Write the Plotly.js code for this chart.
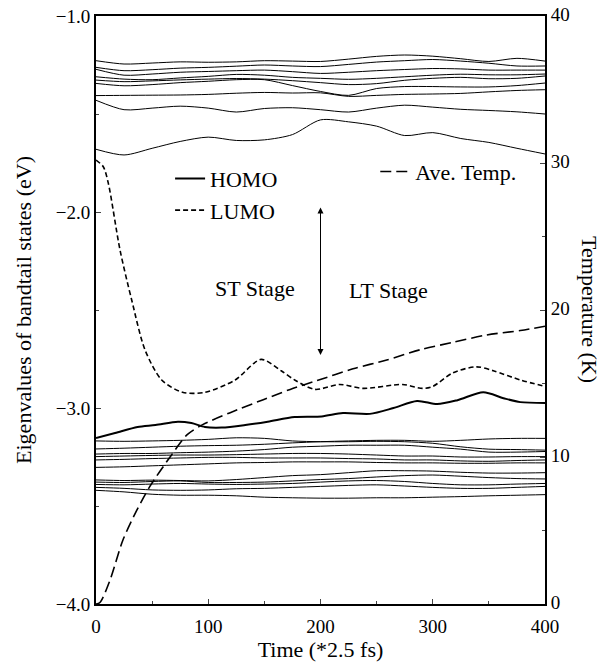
<!DOCTYPE html>
<html>
<head>
<meta charset="utf-8">
<script src="https://cdn.plot.ly/plotly-3.0.1.min.js"></script>
<style>html,body{margin:0;padding:0;background:#fff;}#chart{width:607px;height:662px;}</style>
</head>
<body>
<div id="chart"></div>
<script>
// Time grid (*2.5 fs) for the thin band-tail lines
const tGrid = [0, 25, 50, 75, 100, 125, 150, 175, 200, 225, 250, 275, 300, 325, 350, 375, 400];

// Upper band-tail states (eV)
const up1 = [-1.228,-1.245,-1.240,-1.234,-1.236,-1.234,-1.228,-1.230,-1.232,-1.220,-1.206,-1.199,-1.205,-1.218,-1.232,-1.216,-1.230];
const up2 = [-1.262,-1.279,-1.274,-1.266,-1.262,-1.256,-1.250,-1.255,-1.258,-1.247,-1.235,-1.228,-1.222,-1.230,-1.241,-1.255,-1.255];
const up3 = [-1.272,-1.302,-1.296,-1.287,-1.283,-1.279,-1.276,-1.284,-1.293,-1.287,-1.279,-1.273,-1.268,-1.270,-1.276,-1.276,-1.276];
const up4 = [-1.310,-1.322,-1.325,-1.316,-1.308,-1.298,-1.302,-1.313,-1.318,-1.323,-1.318,-1.310,-1.302,-1.297,-1.300,-1.300,-1.296];
const up5 = [-1.327,-1.335,-1.331,-1.326,-1.322,-1.319,-1.322,-1.330,-1.340,-1.350,-1.345,-1.328,-1.318,-1.313,-1.320,-1.318,-1.306];
const up6 = [-1.344,-1.356,-1.350,-1.340,-1.333,-1.325,-1.325,-1.355,-1.385,-1.405,-1.370,-1.360,-1.360,-1.362,-1.362,-1.355,-1.342];
const up7 = [-1.406,-1.405,-1.404,-1.403,-1.400,-1.394,-1.390,-1.393,-1.392,-1.410,-1.405,-1.400,-1.398,-1.395,-1.387,-1.380,-1.376];
const up8 = [-1.430,-1.478,-1.470,-1.460,-1.470,-1.490,-1.472,-1.468,-1.478,-1.490,-1.470,-1.455,-1.465,-1.476,-1.482,-1.489,-1.500];
const up9 = [-1.680,-1.709,-1.675,-1.640,-1.618,-1.635,-1.632,-1.605,-1.530,-1.540,-1.562,-1.610,-1.595,-1.625,-1.645,-1.675,-1.704];

// Lower band-tail states (eV)
const lo1 = [-3.168,-3.170,-3.168,-3.165,-3.160,-3.152,-3.155,-3.168,-3.172,-3.172,-3.170,-3.172,-3.180,-3.198,-3.210,-3.212,-3.215];
const lo2 = [-3.209,-3.205,-3.200,-3.195,-3.192,-3.190,-3.185,-3.178,-3.172,-3.168,-3.165,-3.165,-3.170,-3.165,-3.158,-3.155,-3.155];
const lo3 = [-3.235,-3.232,-3.232,-3.228,-3.225,-3.220,-3.212,-3.200,-3.195,-3.190,-3.190,-3.190,-3.200,-3.210,-3.225,-3.225,-3.222];
const lo4 = [-3.248,-3.245,-3.242,-3.240,-3.240,-3.238,-3.235,-3.232,-3.232,-3.235,-3.240,-3.245,-3.245,-3.250,-3.250,-3.248,-3.248];
const lo5 = [-3.265,-3.262,-3.258,-3.255,-3.252,-3.252,-3.255,-3.255,-3.255,-3.258,-3.260,-3.265,-3.265,-3.270,-3.272,-3.268,-3.265];
const lo6 = [-3.303,-3.300,-3.295,-3.290,-3.285,-3.280,-3.278,-3.275,-3.275,-3.275,-3.278,-3.280,-3.280,-3.282,-3.282,-3.280,-3.280];
const lo7 = [-3.367,-3.370,-3.368,-3.370,-3.372,-3.365,-3.355,-3.345,-3.340,-3.330,-3.320,-3.320,-3.322,-3.328,-3.332,-3.332,-3.330];
const lo8 = [-3.378,-3.380,-3.375,-3.372,-3.380,-3.380,-3.378,-3.372,-3.365,-3.360,-3.352,-3.345,-3.342,-3.348,-3.355,-3.360,-3.362];
const lo9 = [-3.390,-3.392,-3.388,-3.385,-3.388,-3.390,-3.388,-3.385,-3.378,-3.372,-3.370,-3.375,-3.385,-3.392,-3.392,-3.388,-3.385];
const lo10 = [-3.405,-3.410,-3.418,-3.420,-3.418,-3.412,-3.410,-3.405,-3.400,-3.395,-3.392,-3.398,-3.405,-3.410,-3.410,-3.405,-3.400];
const lo11 = [-3.420,-3.428,-3.440,-3.445,-3.445,-3.448,-3.455,-3.458,-3.460,-3.460,-3.458,-3.458,-3.455,-3.452,-3.448,-3.445,-3.442];

// HOMO (eV)
const homoT = [0, 17, 37, 53, 73, 85, 97, 112, 133, 153, 177, 201, 220, 244, 265, 286, 304, 322, 345, 363, 378, 400];
const homoE = [-3.153,-3.128,-3.097,-3.087,-3.070,-3.077,-3.097,-3.100,-3.087,-3.070,-3.046,-3.043,-3.026,-3.030,-3.000,-2.964,-2.980,-2.960,-2.920,-2.950,-2.970,-2.974];

// LUMO (eV)
const lumoT = [0, 6.5, 11, 21.4, 31.8, 43.7, 58.5, 77, 97, 124, 147, 165, 177, 195, 217, 238, 273, 291, 300, 318, 339, 354, 378, 400];
const lumoE = [-1.735,-1.769,-1.854,-2.194,-2.449,-2.704,-2.857,-2.920,-2.920,-2.857,-2.752,-2.810,-2.857,-2.905,-2.880,-2.900,-2.880,-2.900,-2.890,-2.820,-2.790,-2.810,-2.857,-2.890];

// Average temperature (K)
const tempT = [0, 3.5, 12.5, 24, 36.5, 48, 66, 81, 95, 119, 149, 173, 197, 229, 259, 289, 318, 348, 378, 400];
const tempK = [0, 0.1, 1.63, 4.35, 6.4, 8.0, 10.0, 11.5, 12.2, 13.0, 13.9, 14.6, 15.2, 16.0, 16.6, 17.3, 17.8, 18.3, 18.6, 18.9];

const bandLines = [up1, up2, up3, up4, up5, up6, up7, up8, up9, lo1, lo2, lo3, lo4, lo5, lo6, lo7, lo8, lo9, lo10, lo11];

const FONT = '"Liberation Serif", "Times New Roman", serif';
const traces = [];
bandLines.forEach(v => traces.push({
  x: tGrid, y: v, type: 'scatter', mode: 'lines', showlegend: false, hoverinfo: 'skip',
  line: {color: '#000', width: 1, shape: 'spline', smoothing: 0.8}
}));
traces.push({x: homoT, y: homoE, type: 'scatter', mode: 'lines', name: 'HOMO', legend: 'legend',
  line: {color: '#000', width: 2, shape: 'spline', smoothing: 0.8}});
traces.push({x: lumoT, y: lumoE, type: 'scatter', mode: 'lines', name: 'LUMO', legend: 'legend',
  line: {color: '#000', width: 1.6, dash: '5px,3px', shape: 'spline', smoothing: 0.8}});
traces.push({x: tempT, y: tempK, type: 'scatter', mode: 'lines', name: 'Ave. Temp.', yaxis: 'y2', legend: 'legend2',
  line: {color: '#000', width: 1.6, dash: '11px,5px', shape: 'spline', smoothing: 0.8}});

const layout = {
  width: 607, height: 662,
  margin: {l: 96, r: 62, t: 16, b: 58},
  paper_bgcolor: '#fff', plot_bgcolor: '#fff',
  font: {family: FONT, size: 19, color: '#000'},
  xaxis: {
    range: [0, 400], dtick: 100, ticks: 'inside', ticklen: 5, tickwidth: 1,
    minor: {ticks: 'inside', dtick: 50, ticklen: 3, tickwidth: 1},
    showline: true, linewidth: 2, linecolor: '#000', mirror: true,
    showgrid: false, zeroline: false, ticklabelstandoff: 4,
    tickfont: {family: FONT, size: 19},
    title: {text: 'Time (*2.5 fs)', font: {family: FONT, size: 22}, standoff: 1}
  },
  yaxis: {
    range: [-4, -1], dtick: 1, tickformat: '.1f', ticks: 'inside', ticklen: 5, tickwidth: 1,
    minor: {ticks: 'inside', dtick: 0.5, ticklen: 3, tickwidth: 1},
    showline: true, linewidth: 2, linecolor: '#000',
    showgrid: false, zeroline: false,
    tickfont: {family: FONT, size: 19},
    title: {text: 'Eigenvalues of bandtail states (eV)', font: {family: FONT, size: 22}, standoff: 18}
  },
  yaxis2: {
    overlaying: 'y', side: 'right', range: [0, 40], dtick: 10,
    ticks: 'inside', ticklen: 5, tickwidth: 1,
    minor: {ticks: 'inside', dtick: 5, ticklen: 3, tickwidth: 1},
    showline: true, linewidth: 2, linecolor: '#000',
    showgrid: false, zeroline: false, ticklabelshift: -2,
    tickfont: {family: FONT, size: 19}
  },
  legend: {
    x: 0.165, y: 0.759, xanchor: 'left', yanchor: 'top',
    bgcolor: 'rgba(0,0,0,0)', borderwidth: 0, tracegroupgap: 0,
    font: {family: FONT, size: 22}
  },
  legend2: {
    x: 0.622, y: 0.771, xanchor: 'left', yanchor: 'top',
    bgcolor: 'rgba(0,0,0,0)', borderwidth: 0,
    font: {family: FONT, size: 22}
  },
  annotations: [
    {xref: 'x', yref: 'y', x: 200, y: -2.73, axref: 'x', ayref: 'y', ax: 200, ay: -1.969,
     text: '', showarrow: true, arrowside: 'end+start', arrowhead: 2, arrowsize: 1.2, arrowwidth: 1, arrowcolor: '#000'},
    {xref: 'x', yref: 'y', x: 141.6, y: -2.388, text: 'ST Stage', showarrow: false,
     font: {family: FONT, size: 22}},
    {xref: 'x', yref: 'y', x: 261, y: -2.403, text: 'LT Stage', showarrow: false,
     font: {family: FONT, size: 22}},
    {xref: 'paper', yref: 'paper', x: 1.1, y: 0.5, text: 'Temperature (K)', textangle: 90,
     showarrow: false, xanchor: 'center', yanchor: 'middle', font: {family: FONT, size: 22}}
  ]
};

Plotly.newPlot('chart', traces, layout, {displayModeBar: false, staticPlot: true});
</script>
</body>
</html>
